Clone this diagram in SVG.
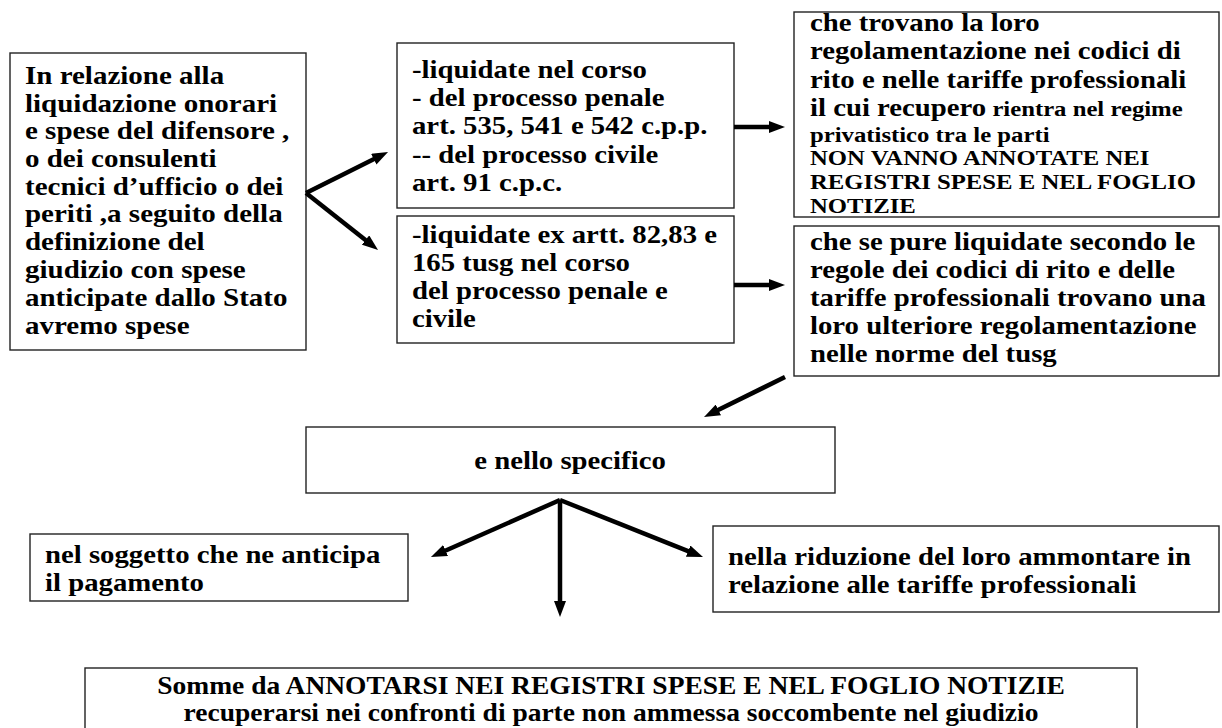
<svg xmlns="http://www.w3.org/2000/svg" width="1222" height="728" viewBox="0 0 1222 728">
<defs>
<style>
.t{font-family:"Liberation Serif","Times New Roman",serif;font-weight:bold;font-size:25px;fill:#000;white-space:pre}
.s{font-size:21.5px}
.box{fill:#fff;stroke:#222;stroke-width:1.4}
.conn line{stroke:#000;stroke-width:4.5;marker-end:url(#ah)}
</style>
<marker id="ah" viewBox="0 0 16 12" markerWidth="16" markerHeight="12" refX="6" refY="6" orient="auto" markerUnits="userSpaceOnUse">
<path d="M0,0 L16,6 L0,12 z" fill="#000"/>
</marker>
</defs>
<rect width="1222" height="728" fill="#fff"/>

<g id="nodeA">
<rect class="box" x="10" y="53" width="296" height="297"/>
<g transform="translate(25,0) scale(1.16,1)" class="t">
<text x="0" y="84">In relazione alla</text>
<text x="0" y="112">liquidazione onorari</text>
<text x="0" y="139">e spese del difensore ,</text>
<text x="0" y="167">o dei consulenti</text>
<text x="0" y="195">tecnici d’ufficio o dei</text>
<text x="0" y="222">periti ,a seguito della</text>
<text x="0" y="250">definizione del</text>
<text x="0" y="278">giudizio con spese</text>
<text x="0" y="306">anticipate dallo Stato</text>
<text x="0" y="334">avremo spese</text>
</g>
</g>

<g id="nodeB">
<rect class="box" x="397" y="43" width="337" height="165"/>
<g transform="translate(412,0) scale(1.15,1)" class="t">
<text x="0" y="78">-liquidate nel corso</text>
<text x="0" y="106">- del  processo penale</text>
<text x="0" y="134">art. 535, 541 e 542  c.p.p.</text>
<text x="0" y="163">-- del processo civile</text>
<text x="0" y="191">art. 91 c.p.c.</text>
</g>
</g>

<g id="nodeC">
<rect class="box" x="397" y="216" width="337" height="127"/>
<g transform="translate(412,0) scale(1.15,1)" class="t">
<text x="0" y="243">-liquidate ex artt. 82,83 e</text>
<text x="0" y="271">165 tusg nel corso</text>
<text x="0" y="299">del processo penale e</text>
<text x="0" y="327">civile</text>
</g>
</g>

<g id="nodeD">
<rect class="box" x="794" y="12" width="425" height="205"/>
<g transform="translate(810,0) scale(1.15,1)" class="t">
<text x="0" y="31">che trovano la loro</text>
<text x="0" y="59">regolamentazione nei codici di</text>
<text x="0" y="88">rito e nelle tariffe professionali</text>
<text x="0" y="116">il cui recupero<tspan class="s"> rientra nel regime</tspan></text>
<text x="0" y="142" class="s">privatistico tra le parti</text>
<text x="0" y="165" class="s">NON VANNO ANNOTATE NEI</text>
<text x="0" y="189" class="s">REGISTRI SPESE E NEL FOGLIO</text>
<text x="0" y="213" class="s">NOTIZIE</text>
</g>
</g>

<g id="nodeE">
<rect class="box" x="794" y="226" width="425" height="150"/>
<g transform="translate(810,0) scale(1.15,1)" class="t">
<text x="0" y="250">che se pure liquidate secondo le</text>
<text x="0" y="278">regole dei codici di rito e delle</text>
<text x="0" y="306">tariffe professionali trovano una</text>
<text x="0" y="334">loro ulteriore regolamentazione</text>
<text x="0" y="362">nelle norme del tusg</text>
</g>
</g>

<g id="nodeMid">
<rect class="box" x="306" y="427" width="529" height="66"/>
<g transform="translate(570,0) scale(1.15,1)" class="t">
<text x="0" y="469" text-anchor="middle">e nello specifico</text>
</g>
</g>

<g id="nodeLeft">
<rect class="box" x="30" y="534" width="378" height="67"/>
<g transform="translate(45,0) scale(1.15,1)" class="t">
<text x="0" y="563">nel soggetto che ne anticipa</text>
<text x="0" y="591"> il pagamento</text>
</g>
</g>

<g id="nodeRight">
<rect class="box" x="713" y="526" width="506" height="86"/>
<g transform="translate(728,0) scale(1.15,1)" class="t">
<text x="0" y="565">nella riduzione del loro ammontare in</text>
<text x="0" y="593">relazione alle tariffe professionali</text>
</g>
</g>

<g id="nodeBottom">
<rect class="box" x="85" y="668" width="1052" height="80"/>
<g transform="translate(611,0) scale(1.1,1)" class="t">
<text x="0" y="694" text-anchor="middle">Somme da ANNOTARSI NEI REGISTRI SPESE E NEL FOGLIO NOTIZIE</text>
<text x="0" y="721" text-anchor="middle">recuperarsi nei confronti di parte non ammessa soccombente nel giudizio</text>
</g>
</g>

<g id="connectors" class="conn">
<line x1="306" y1="193" x2="379.1" y2="156.5"/>
<line x1="306" y1="193" x2="370.2" y2="243.8"/>
<line x1="734" y1="127" x2="775" y2="127"/>
<line x1="734" y1="285" x2="775" y2="285"/>
<line x1="785" y1="377" x2="713" y2="412.6"/>
<line x1="560" y1="500" x2="440.1" y2="553"/>
<line x1="560" y1="500" x2="560" y2="607"/>
<line x1="560" y1="500" x2="693.7" y2="553.3"/>
</g>
</svg>
